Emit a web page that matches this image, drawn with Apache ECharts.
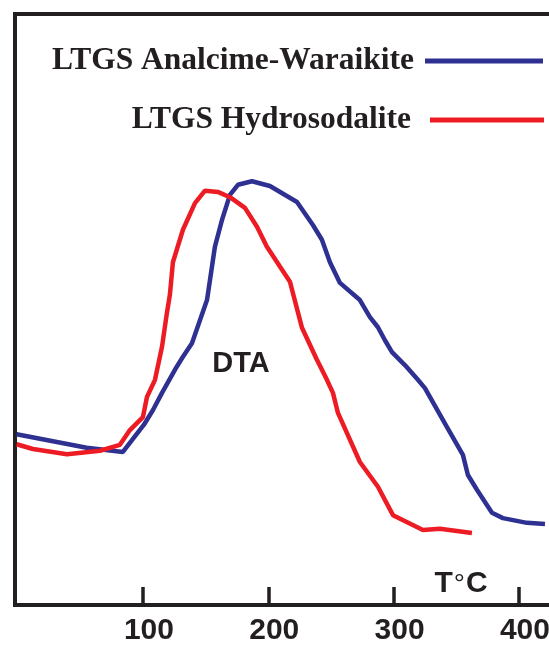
<!DOCTYPE html>
<html><head><meta charset="utf-8">
<script src="https://cdn.jsdelivr.net/npm/echarts@6/dist/echarts.min.js"></script>
<style>html,body{margin:0;padding:0;background:#fff}#c{width:549px;height:646px}</style>
</head><body><div id="c"></div>
<script>
const seriesNames = ['LTGS Analcime-Waraikite', 'LTGS Hydrosodalite'];
const tempTicks = [100, 200, 300, 400];

const analcimeT   = [-0.8, 55.1, 84.0, 100.8, 108.0, 115.2, 125.5, 131.9, 139.1, 151.1, 153.5, 157.4, 163.0, 169.4, 175.8, 187.0, 201.3, 222.9, 235.6, 242.8, 249.2, 257.2, 273.1, 281.1, 287.5, 293.1, 298.7, 309.0, 319.4, 325.0, 342.6, 355.3, 359.3, 366.5, 378.5, 387.2, 406.4, 420.8];
const analcimeDTA = [28.9, 26.6, 25.9, 30.5, 33.0, 35.9, 39.8, 42.0, 44.3, 51.6, 55.0, 60.6, 65.1, 69.4, 71.1, 71.7, 70.9, 68.2, 64.3, 61.8, 58.0, 54.5, 51.6, 48.7, 47.0, 44.8, 42.8, 40.6, 38.1, 36.7, 30.1, 25.4, 22.0, 19.5, 15.6, 14.7, 13.9, 13.7];

const hydroT   = [-0.8, 12.2, 39.4, 65.7, 81.6, 89.6, 100.0, 103.2, 109.6, 115.2, 119.1, 121.5, 123.9, 131.9, 141.5, 149.5, 159.8, 169.4, 181.4, 191.0, 198.9, 217.3, 226.9, 238.8, 246.8, 251.6, 255.6, 273.1, 287.5, 299.5, 323.4, 337.0, 362.5];
const hydroDTA = [27.2, 26.4, 25.5, 26.1, 27.1, 29.6, 31.8, 35.2, 38.1, 43.7, 49.4, 52.5, 58.0, 63.5, 68.0, 70.1, 69.9, 69.0, 67.2, 64.0, 60.6, 54.7, 46.9, 41.5, 38.1, 35.9, 32.5, 24.2, 20.0, 15.2, 12.7, 12.9, 12.2];

const zip = (xs, ys) => xs.map((x, i) => [x, ys[i]]);
const ink = '#231f20';
const axisLineStyle = { color: ink, width: 4, cap: 'square' };
const legendText = { fontFamily: 'Liberation Serif', fontWeight: 'bold', fontSize: 31.5, color: ink };

const chart = echarts.init(document.getElementById('c'), null, { renderer: 'canvas' });
chart.setOption({
  animation: false,
  backgroundColor: '#fff',
  grid: { left: 15, right: 0, top: 14, bottom: 41, containLabel: false, outerBoundsMode: 'none' },
  xAxis: [{
    type: 'value', min: -2.1, max: 424, position: 'bottom',
    axisLine: { show: true, onZero: false, lineStyle: axisLineStyle },
    axisTick: { show: true, inside: true, length: 18, customValues: tempTicks, lineStyle: { color: ink, width: 3.5 } },
    axisLabel: { show: true, customValues: tempTicks, fontSize: 30, fontWeight: 'bold', fontFamily: 'Liberation Sans', color: ink, margin: 11, padding: [0, 0, 0, 12], hideOverlap: false },
    splitLine: { show: false }
  }, {
    type: 'value', min: -2.1, max: 424, position: 'top',
    axisLine: { show: true, onZero: false, lineStyle: axisLineStyle },
    axisTick: { show: false }, axisLabel: { show: false }, splitLine: { show: false }
  }],
  yAxis: {
    type: 'value', min: 0, max: 100,
    axisLine: { show: true, onZero: false, lineStyle: axisLineStyle },
    axisTick: { show: false }, axisLabel: { show: false }, splitLine: { show: false }
  },
  legend: [{
    data: [seriesNames[0]], right: 6, top: 45, align: 'right', icon: 'rect',
    itemWidth: 118, itemHeight: 5, padding: 0, selectedMode: false,
    textStyle: Object.assign({ padding: [0, 6, 0, 0] }, legendText)
  }, {
    data: [seriesNames[1]], right: 5, top: 104, align: 'right', icon: 'rect',
    itemWidth: 114, itemHeight: 5, padding: 0, selectedMode: false,
    textStyle: Object.assign({ padding: [0, 14, 0, 0] }, legendText)
  }],
  graphic: [{
    type: 'text', x: 241, y: 364,
    style: { text: 'DTA', font: 'bold 29px "Liberation Sans"', fill: ink, align: 'center', verticalAlign: 'middle' }
  }, {
    type: 'text', x: 461, y: 584,
    style: {
      text: '{t|T}{d|°}{t|C}', align: 'center', verticalAlign: 'middle', fill: ink,
      rich: {
        t: { fontSize: 30, fontWeight: 'bold', fontFamily: 'Liberation Sans', fill: ink, color: ink, lineHeight: 30 },
        d: { fontSize: 28, fontWeight: 'normal', fontFamily: 'Liberation Sans', fill: ink, color: ink, lineHeight: 10, verticalAlign: 'bottom', padding: [0, 1, 0, 1] }
      }
    }
  }],
  series: [{
    name: seriesNames[0], type: 'line', data: zip(analcimeT, analcimeDTA),
    symbol: 'none', lineStyle: { color: '#2e3192', width: 4.5 }, itemStyle: { color: '#2e3192' }
  }, {
    name: seriesNames[1], type: 'line', data: zip(hydroT, hydroDTA),
    symbol: 'none', lineStyle: { color: '#ed1c24', width: 4.5 }, itemStyle: { color: '#ed1c24' }
  }]
});
</script></body></html>
